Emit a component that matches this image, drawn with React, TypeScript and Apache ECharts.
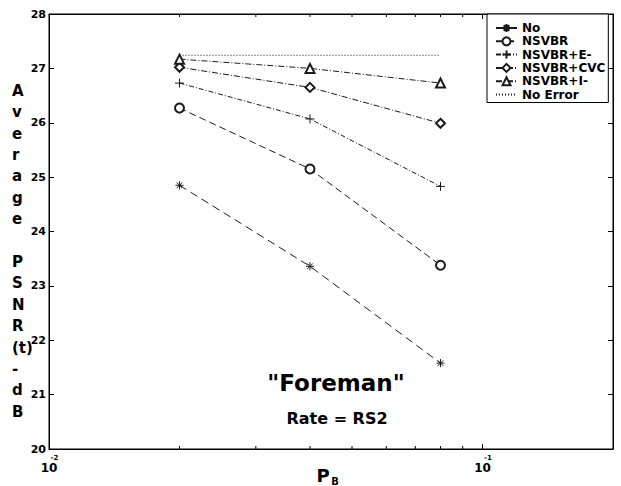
import React, { useEffect, useRef } from "react";
import * as echarts from "echarts";

const xValues = [0.02, 0.04, 0.08];
const seriesNames = ["No", "NSVBR", "NSVBR+E-", "NSVBR+CVC", "NSVBR+I-", "No Error"];
const noValues = [24.85, 23.36, 21.58];
const nsvbrValues = [26.27, 25.15, 23.38];
const nsvbrEValues = [26.73, 26.07, 24.83];
const nsvbrCvcValues = [27.02, 26.65, 25.99];
const nsvbrIValues = [27.17, 27.0, 26.73];
const noErrorValues = [27.24, 27.24, 27.24];
const minorTickX = [0.02, 0.03, 0.04, 0.05, 0.06, 0.07, 0.08, 0.09];
const yLabelText = "A\nv\ne\nr\na\ng\ne\n \nP\nS\nN\nR\n(t)\n-\nd\nB";

const FONT = "DejaVu Sans";
const INK = "#1a1a1a";

const STAR = "path://M0,-5L0,5M-5,0L5,0M-3.5,-3.5L3.5,3.5M-3.5,3.5L3.5,-3.5";
const PLUS = "path://M0,-5L0,5M-5,0L5,0";

function mk(name: string, vals: number[], symbol: string, size: number, dash: any, showSymbol = true) {
  return {
    name,
    type: "line",
    data: xValues.map((x, i) => [x, vals[i]]),
    symbol: showSymbol ? symbol : "none",
    symbolSize: size,
    showSymbol,
    lineStyle: { color: INK, width: 1, type: dash },
    itemStyle: { color: INK, borderColor: INK, borderWidth: 1 },
    emphasis: { disabled: true },
    z: 3,
  };
}

export default function App() {
  const ref = useRef<HTMLDivElement>(null);
  useEffect(() => {
    document.body.style.margin = "0";
    const chart = echarts.init(ref.current!, null, { renderer: "svg" });
    const tickFmt = (v: number) => {
      const e = Math.log10(v);
      if (Math.abs(e - Math.round(e)) > 1e-6) return "";
      return `{s|${Math.round(e)}}\n{b|10}`;
    };
    chart.setOption({
      animation: false,
      backgroundColor: "#fff",
      grid: {
        left: 49, right: 8, top: 14, bottom: 37,
        show: true, borderColor: "#000", borderWidth: 1,
        containLabel: false, outerBoundsMode: "none",
      },
      legend: {
        data: seriesNames.map((n) =>
          n === "No Error" ? { name: n, itemStyle: { opacity: 0 } } : { name: n }
        ),
        orient: "vertical",
        left: 487,
        top: 14,
        padding: [8, 3, 2, 8],
        itemWidth: 21,
        itemHeight: 10,
        itemGap: 1.3,
        backgroundColor: "#fff",
        borderColor: "#000",
        borderWidth: 1,
        textStyle: { fontFamily: FONT, fontWeight: "bold", fontSize: 12, color: "#000", lineHeight: 10 },
      },
      xAxis: [
        {
          type: "log",
          logBase: 10,
          min: 0.01,
          max: 0.2,
          axisLine: { lineStyle: { color: "#000", width: 1 } },
          axisTick: { inside: true, length: 5, lineStyle: { color: "#000" } },
          splitLine: { show: false },
          axisLabel: {
            formatter: tickFmt,
            showMaxLabel: false,
            margin: 5,
            rich: {
              s: { fontFamily: FONT, fontWeight: "bold", fontSize: 7, color: "#000", lineHeight: 8, padding: [0, 0, 0, 11] },
              b: { fontFamily: FONT, fontWeight: "bold", fontSize: 12, color: "#000", lineHeight: 12 },
            },
          },
        },
        {
          type: "log",
          logBase: 10,
          min: 0.01,
          max: 0.2,
          position: "top",
          axisLine: { lineStyle: { color: "#000", width: 1 } },
          axisTick: { inside: true, length: 5, lineStyle: { color: "#000" } },
          axisLabel: { show: false },
          splitLine: { show: false },
        },
      ],
      yAxis: [
        {
          type: "value",
          min: 20,
          max: 28,
          interval: 1,
          axisLine: { show: true, lineStyle: { color: "#000", width: 1 } },
          axisTick: { show: true, inside: true, length: 5, lineStyle: { color: "#000" } },
          splitLine: { show: false },
          axisLabel: { fontFamily: FONT, fontWeight: "bold", fontSize: 11, color: "#000", margin: 3 },
        },
        {
          type: "value",
          min: 20,
          max: 28,
          interval: 1,
          position: "right",
          axisLine: { show: true, lineStyle: { color: "#000", width: 1 } },
          axisTick: { show: true, inside: true, length: 5, lineStyle: { color: "#000" } },
          splitLine: { show: false },
          axisLabel: { show: false },
        },
      ],
      series: [
        mk("No", noValues, STAR, 8, [8, 5]),
        mk("NSVBR", nsvbrValues, "emptyCircle", 9, [7, 4]),
        mk("NSVBR+E-", nsvbrEValues, PLUS, 9, [5, 2, 1, 2]),
        mk("NSVBR+CVC", nsvbrCvcValues, "emptyDiamond", 9, [6, 2, 1, 2]),
        mk("NSVBR+I-", nsvbrIValues, "emptyTriangle", 9, [6, 2, 1, 2]),
        mk("No Error", noErrorValues, "none", 0, [1, 2], false),
        {
          type: "custom",
          silent: true,
          data: minorTickX.map((x) => [x, 20]),
          renderItem: (params: any, api: any) => {
            const x = api.value(0);
            const b = api.coord([x, 20]);
            const t = api.coord([x, 28]);
            return {
              type: "group",
              children: [
                { type: "line", shape: { x1: b[0], y1: b[1], x2: b[0], y2: b[1] - 3 }, style: { stroke: "#000", lineWidth: 1 } },
                { type: "line", shape: { x1: t[0], y1: t[1], x2: t[0], y2: t[1] + 3 }, style: { stroke: "#000", lineWidth: 1 } },
              ],
            };
          },
        },
      ],
      graphic: [
        {
          type: "text",
          left: 12,
          top: 80,
          style: {
            text: yLabelText,
            fontFamily: FONT,
            fontWeight: "bold",
            fontSize: 15,
            lineHeight: 21.4,
            fill: "#000",
            align: "center",
            width: 18,
          },
        },
        {
          type: "text",
          x: 323,
          y: 475,
          style: { text: "P", fontFamily: FONT, fontWeight: "bold", fontSize: 18, fill: "#000", align: "center", verticalAlign: "middle" },
        },
        {
          type: "text",
          x: 335,
          y: 481,
          style: { text: "B", fontFamily: FONT, fontWeight: "bold", fontSize: 10, fill: "#000", align: "center", verticalAlign: "middle" },
        },
        {
          type: "text",
          x: 336,
          y: 383,
          style: { text: '"Foreman"', fontFamily: FONT, fontWeight: "bold", fontSize: 23, fill: "#000", align: "center", verticalAlign: "middle" },
        },
        {
          type: "text",
          x: 337,
          y: 418,
          style: { text: "Rate = RS2", fontFamily: FONT, fontWeight: "bold", fontSize: 16, fill: "#000", align: "center", verticalAlign: "middle" },
        },
      ],
    });
    return () => chart.dispose();
  }, []);
  return <div ref={ref} style={{ position: "fixed", left: 0, top: 0, width: 621, height: 486 }} />;
}
